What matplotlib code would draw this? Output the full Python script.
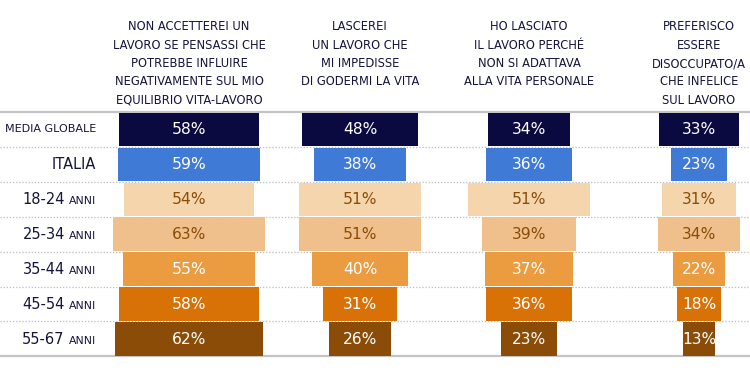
import matplotlib.pyplot as plt

# survey data (percent)
headers = [
    "NON ACCETTEREI UN\nLAVORO SE PENSASSI CHE\nPOTREBBE INFLUIRE\nNEGATIVAMENTE SUL MIO\nEQUILIBRIO VITA-LAVORO",
    "LASCEREI\nUN LAVORO CHE\nMI IMPEDISSE\nDI GODERMI LA VITA",
    "HO LASCIATO\nIL LAVORO PERCHÉ\nNON SI ADATTAVA\nALLA VITA PERSONALE",
    "PREFERISCO\nESSERE\nDISOCCUPATO/A\nCHE INFELICE\nSUL LAVORO",
]
groups = ["MEDIA GLOBALE", "ITALIA", "18-24", "25-34", "35-44", "45-54", "55-67"]
col1 = [58, 59, 54, 63, 55, 58, 62]
col2 = [48, 38, 51, 51, 40, 31, 26]
col3 = [34, 36, 51, 39, 37, 36, 23]
col4 = [33, 23, 31, 34, 22, 18, 13]
columns = [col1, col2, col3, col4]

bar_colors = ["#0b0a40", "#3f7ad6", "#f5d5ac", "#f0c08c", "#eb9c40", "#d97206", "#8a4c06"]
text_colors = ["white", "white", "#8a4c06", "#8a4c06", "white", "white", "white"]
navy = "#15143f"

# layout in pixels
col_centers = [189, 360, 529, 699]
px_per_pct = 2.4
top, row_h = 112, 34.9
head_y0, head_step = 27, 18.3

fig = plt.figure(figsize=(7.5, 3.77), dpi=100)
ax = fig.add_axes([0, 0, 1, 1])
ax.set_xlim(0, 750)
ax.set_ylim(377, 0)
ax.axis("off")

# grid lines
for i in range(1, len(groups)):
    y = top + row_h * i
    ax.plot([0, 750], [y, y], color="#bdbdbd", lw=0.9, ls=(0, (1, 1.5)), zorder=1)
for y in [top, top + row_h * len(groups)]:
    ax.plot([0, 750], [y, y], color="#c4c4c4", lw=1.6, zorder=1)

# bars
for cx, vals in zip(col_centers, columns):
    for i, v in enumerate(vals):
        yc = top + row_h * (i + 0.5)
        w = v * px_per_pct
        ax.barh(yc, w, left=cx - w / 2, height=row_h - 1.5, color=bar_colors[i], zorder=2)
        ax.text(cx, yc + 0.5, f"{v}%", ha="center", va="center", fontsize=11.2,
                color=text_colors[i], zorder=3)

# headers, one line at a time
for cx, h in zip(col_centers, headers):
    for k, line in enumerate(h.split("\n")):
        ax.text(cx, head_y0 + head_step * k, line, ha="center", va="center",
                fontsize=8.3, color=navy)

# row labels
fig.canvas.draw()
r = fig.canvas.get_renderer()
label_x = 96
for i, g in enumerate(groups):
    yc = top + row_h * (i + 0.5)
    if i == 0:
        ax.text(label_x, yc, g, ha="right", va="center", fontsize=8, color=navy)
    elif i == 1:
        ax.text(label_x, yc, g, ha="right", va="center", fontsize=10.5, color=navy)
    else:
        t = ax.text(label_x, yc + 5, "ANNI", ha="right", va="baseline", fontsize=7.8, color=navy)
        t_ext = t.get_window_extent(r)
        ax.text(label_x - t_ext.width - 4, yc + 5, g, ha="right", va="baseline",
                fontsize=10.5, color=navy)

fig.savefig("out.png", dpi=100)
